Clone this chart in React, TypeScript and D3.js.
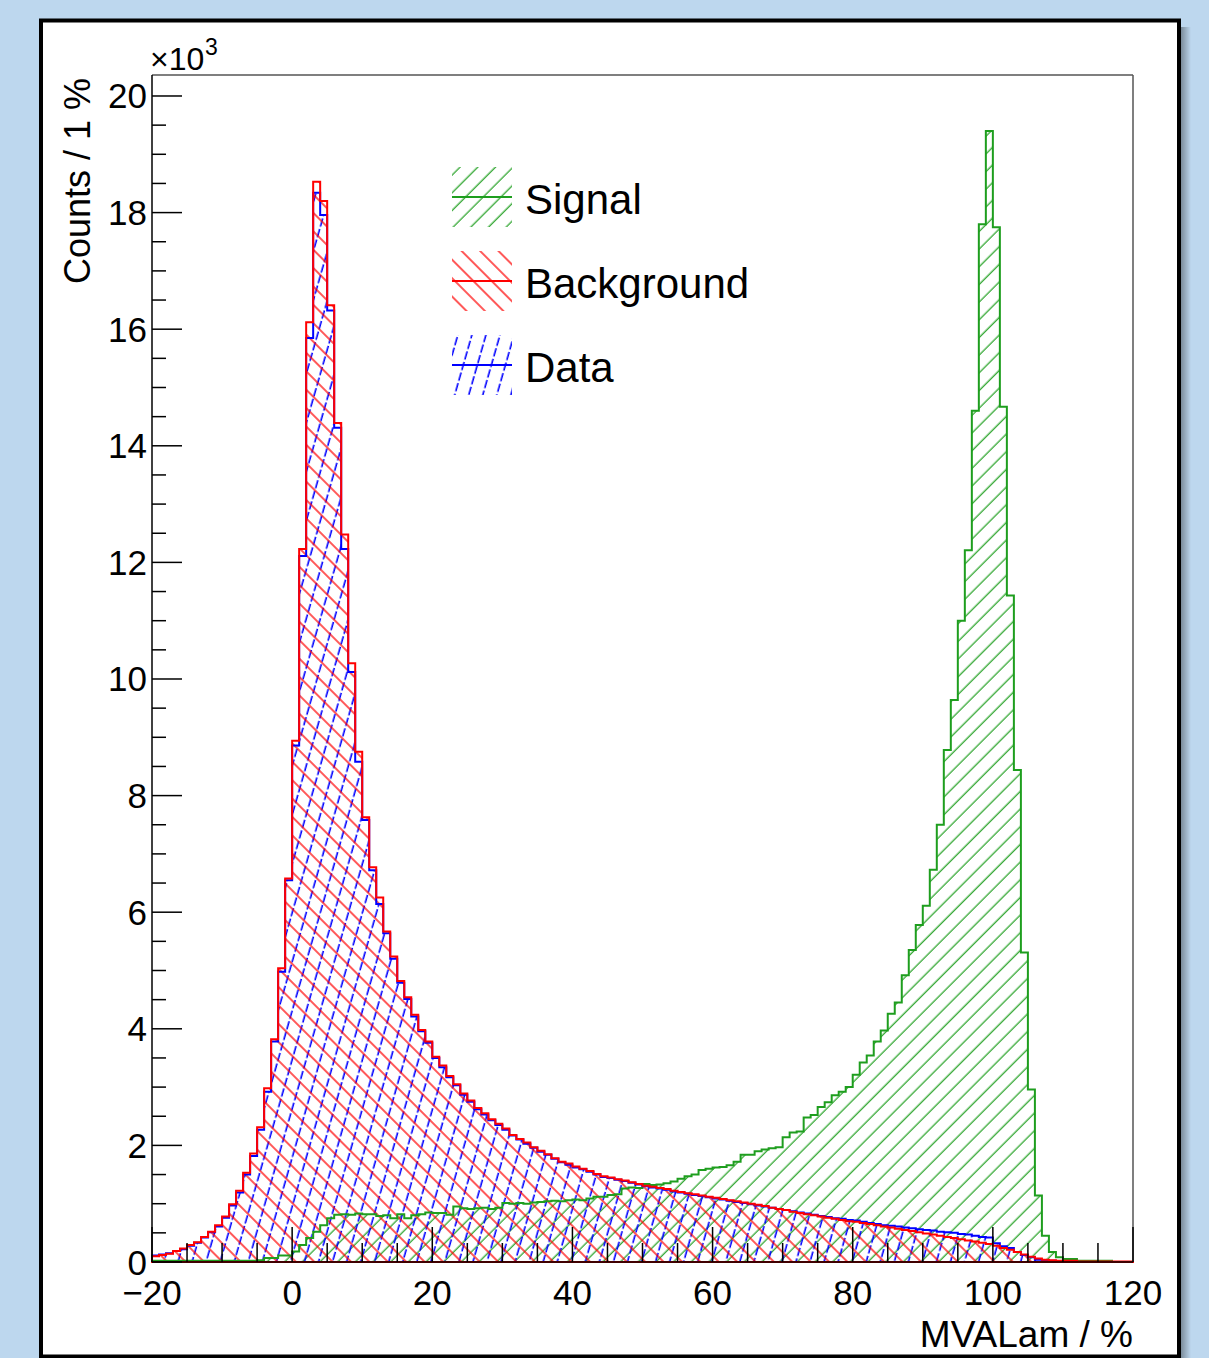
import React from 'react';
import * as d3 from 'd3';

// lower edge of every 1 % bin, -20 .. 119
const binLow = d3.range(-20, 120);

// counts in thousands
const signal = [
  0.02, 0.02, 0.02, 0.02, 0.02, 0.02, 0.02, 0.02, 0.02, 0.02,
  0.02, 0.02, 0.02, 0.02, 0.02, 0.03, 0.07, 0.07, 0.11, 0.11,
  0.18, 0.29, 0.41, 0.52, 0.63, 0.75, 0.81, 0.82, 0.81, 0.83,
  0.82, 0.82, 0.79, 0.80, 0.75, 0.82, 0.75, 0.80, 0.82, 0.85,
  0.84, 0.84, 0.81, 0.95, 0.92, 0.91, 0.92, 0.93, 0.91, 0.93,
  1.01, 1.00, 1.01, 1.00, 1.02, 1.03, 1.04, 1.05, 1.04, 1.06,
  1.07, 1.06, 1.09, 1.12, 1.12, 1.15, 1.16, 1.26, 1.28, 1.27,
  1.34, 1.32, 1.33, 1.35, 1.38, 1.43, 1.47, 1.50, 1.58, 1.60,
  1.62, 1.63, 1.66, 1.72, 1.84, 1.84, 1.90, 1.93, 1.95, 1.97,
  2.14, 2.22, 2.24, 2.48, 2.52, 2.66, 2.74, 2.86, 2.92, 3.00,
  3.21, 3.42, 3.54, 3.78, 3.97, 4.26, 4.45, 4.92, 5.35, 5.78,
  6.11, 6.73, 7.50, 8.78, 9.64, 11.00, 12.21, 14.60, 17.80, 19.40,
  17.75, 14.67, 11.43, 8.44, 5.31, 2.96, 1.14, 0.45, 0.17, 0.08,
  0.05, 0.05, 0.02, 0.02, 0.02, 0.02, 0.02, 0, 0, 0,
];

const background = [
  0.10, 0.12, 0.14, 0.19, 0.23, 0.29, 0.34, 0.43, 0.52, 0.63,
  0.78, 0.99, 1.22, 1.53, 1.86, 2.31, 2.98, 3.82, 5.04, 6.58,
  8.94, 12.23, 16.12, 18.53, 18.20, 16.41, 14.39, 12.48, 10.27, 8.75,
  7.63, 6.77, 6.25, 5.67, 5.24, 4.82, 4.54, 4.24, 3.98, 3.78,
  3.52, 3.37, 3.19, 3.05, 2.89, 2.77, 2.64, 2.55, 2.45, 2.37,
  2.29, 2.18, 2.11, 2.05, 1.97, 1.91, 1.85, 1.78, 1.72, 1.69,
  1.64, 1.60, 1.56, 1.51, 1.47, 1.45, 1.42, 1.40, 1.37, 1.34,
  1.31, 1.29, 1.27, 1.25, 1.22, 1.20, 1.18, 1.16, 1.14, 1.12,
  1.10, 1.08, 1.06, 1.04, 1.02, 1.00, 0.98, 0.96, 0.93, 0.91,
  0.89, 0.86, 0.84, 0.82, 0.80, 0.78, 0.76, 0.74, 0.72, 0.70,
  0.69, 0.67, 0.65, 0.63, 0.61, 0.59, 0.57, 0.55, 0.53, 0.51,
  0.49, 0.47, 0.45, 0.43, 0.41, 0.39, 0.37, 0.35, 0.33, 0.31,
  0.28, 0.24, 0.21, 0.17, 0.13, 0.09, 0.06, 0.04, 0.03, 0.02,
  0.02, 0.02, 0.01, 0.01, 0.01, 0.01, 0.01, 0.01, 0.01, 0.01,
];

const data = [
  0.11, 0.13, 0.15, 0.19, 0.22, 0.28, 0.33, 0.42, 0.51, 0.61,
  0.76, 0.97, 1.19, 1.50, 1.82, 2.27, 2.92, 3.78, 4.98, 6.55,
  8.86, 12.11, 15.85, 18.34, 17.96, 16.32, 14.31, 12.23, 10.12, 8.58,
  7.58, 6.72, 6.14, 5.64, 5.20, 4.79, 4.51, 4.21, 3.96, 3.76,
  3.50, 3.34, 3.17, 3.03, 2.87, 2.75, 2.62, 2.53, 2.43, 2.35,
  2.27, 2.17, 2.10, 2.03, 1.96, 1.89, 1.84, 1.77, 1.71, 1.67,
  1.62, 1.59, 1.55, 1.50, 1.46, 1.44, 1.41, 1.39, 1.36, 1.33,
  1.30, 1.28, 1.26, 1.24, 1.21, 1.19, 1.17, 1.15, 1.13, 1.11,
  1.09, 1.07, 1.05, 1.03, 1.01, 0.99, 0.97, 0.95, 0.93, 0.91,
  0.89, 0.87, 0.85, 0.83, 0.81, 0.79, 0.77, 0.75, 0.74, 0.72,
  0.71, 0.69, 0.67, 0.65, 0.63, 0.62, 0.61, 0.59, 0.58, 0.56,
  0.55, 0.54, 0.52, 0.51, 0.50, 0.48, 0.47, 0.45, 0.43, 0.42,
  0.32, 0.27, 0.24, 0.17, 0.12, 0.08, 0.04, 0.03, 0.02, 0.01,
  0, 0, 0, 0, 0, 0, 0, 0, 0, 0,
];

const xTicks = [-20, 0, 20, 40, 60, 80, 100, 120];
const xTickLabels = ['\u221220', '0', '20', '40', '60', '80', '100', '120'];
const yTicks = [0, 2, 4, 6, 8, 10, 12, 14, 16, 18, 20];

const legendItems = [
  { label: 'Signal', color: '#1e9e1e', pat: 'hatchSig' },
  { label: 'Background', color: '#ff0000', pat: 'hatchBkg' },
  { label: 'Data', color: '#0000ff', pat: 'hatchData' },
];

const FONT = '"Liberation Sans", Arial, Helvetica, sans-serif';

export default function App() {
  const W = 1209, H = 1358;
  const left = 152, right = 1133, top = 75, bottom = 1262;

  const x = d3.scaleLinear().domain([-20, 120]).range([left, right]);
  const y = d3.scaleLinear().domain([0, 20.36]).range([bottom, top]);

  const area = d3.area<[number, number]>()
    .x(d => x(d[0]))
    .y0(y(0))
    .y1(d => y(d[1]))
    .curve(d3.curveStepAfter);

  const steps = (vals: number[]): [number, number][] => [
    ...binLow.map((b, i) => [b, vals[i]] as [number, number]),
    [120, vals[vals.length - 1]],
  ];

  const xMinor = d3.range(-20, 121, 5).filter(v => v % 20 !== 0);
  const yMinor = d3.range(0, 20.36, 0.5).filter(v => v % 2 !== 0);

  const hists = [
    { vals: signal, color: '#1e9e1e', pat: 'hatchSig' },
    { vals: data, color: '#0000ff', pat: 'hatchData' },
    { vals: background, color: '#ff0000', pat: 'hatchBkg' },
  ];

  return (
    <svg width={W} height={H} style={{ position: 'absolute', left: 0, top: 0 }} fontFamily={FONT}>
      <defs>
        <pattern id="hatchSig" patternUnits="userSpaceOnUse" width={12.5} height={12.5} patternTransform="rotate(45)">
          <line x1={6} y1={0} x2={6} y2={12.5} stroke="#1e9e1e" strokeWidth={1.2} />
        </pattern>
        <pattern id="hatchBkg" patternUnits="userSpaceOnUse" width={13} height={13} patternTransform="rotate(-45)">
          <line x1={6} y1={0} x2={6} y2={13} stroke="#ff0000" strokeWidth={1.3} />
        </pattern>
        <pattern id="hatchData" patternUnits="userSpaceOnUse" width={13.5} height={11} patternTransform="rotate(16)">
          <line x1={6} y1={0} x2={6} y2={8.5} stroke="#0000ff" strokeWidth={1.6} />
        </pattern>
        <linearGradient id="shadow" x1="0" x2="1" y1="0" y2="0">
          <stop offset="0" stopColor="#000" stopOpacity={0.35} />
          <stop offset="1" stopColor="#000" stopOpacity={0} />
        </linearGradient>
      </defs>

      <rect x={0} y={0} width={W} height={H} fill="#bdd7ee" />
      <rect x={1181} y={27} width={10} height={H - 27} fill="url(#shadow)" />
      <rect x={41} y={20.5} width={1138} height={1336} fill="#fff" stroke="#000" strokeWidth={4} />

      {/* histograms */}
      {hists.map(h => (
        <path key={h.pat} d={area(steps(h.vals)) || ''} fill={`url(#${h.pat})`} stroke="none" />
      ))}
      {hists.map(h => (
        <path key={h.pat + 'o'} d={area(steps(h.vals)) || ''} fill="none" stroke={h.color} strokeWidth={2} />
      ))}

      {/* frame */}
      <line x1={left} x2={right} y1={top} y2={top} stroke="#555" strokeWidth={1.5} />
      <line x1={right} x2={right} y1={top} y2={bottom} stroke="#555" strokeWidth={1.5} />

      {/* y axis */}
      <line x1={left} x2={left} y1={top} y2={bottom} stroke="#000" strokeWidth={1.5} />
      {yTicks.map(t => (
        <g key={'yt' + t}>
          <line x1={left} x2={left + 30} y1={y(t)} y2={y(t)} stroke="#000" strokeWidth={1.5} />
          <text x={147} y={y(t) + 12.5} fontSize={35} textAnchor="end">{t}</text>
        </g>
      ))}
      {yMinor.map(t => (
        <line key={'ym' + t} x1={left} x2={left + 14} y1={y(t)} y2={y(t)} stroke="#000" strokeWidth={1.5} />
      ))}
      <text x={150} y={70} fontSize={32}>×10</text>
      <text x={205} y={55} fontSize={23}>3</text>
      <text transform="translate(90,78) rotate(-90)" fontSize={36} textAnchor="end">Counts / 1 %</text>

      {/* x axis */}
      <line x1={left} x2={right} y1={bottom} y2={bottom} stroke="#000" strokeWidth={1.5} />
      {xTicks.map((t, i) => (
        <g key={'xt' + t}>
          <line x1={x(t)} x2={x(t)} y1={bottom} y2={bottom - 35} stroke="#000" strokeWidth={1.5} />
          <text x={x(t)} y={1305} fontSize={35} textAnchor="middle">{xTickLabels[i]}</text>
        </g>
      ))}
      {xMinor.map(t => (
        <line key={'xm' + t} x1={x(t)} x2={x(t)} y1={bottom} y2={bottom - 19} stroke="#000" strokeWidth={1.5} />
      ))}
      <text x={right} y={1347} fontSize={37} textAnchor="end">MVALam / %</text>

      {/* legend */}
      {legendItems.map((it, i) => {
        const cy = 197 + i * 84;
        return (
          <g key={it.label}>
            <rect x={452} y={cy - 30} width={60} height={60} fill={`url(#${it.pat})`} />
            <line x1={452} x2={512} y1={cy} y2={cy} stroke={it.color} strokeWidth={2} />
            <text x={525} y={cy + 17} fontSize={42}>{it.label}</text>
          </g>
        );
      })}
    </svg>
  );
}
